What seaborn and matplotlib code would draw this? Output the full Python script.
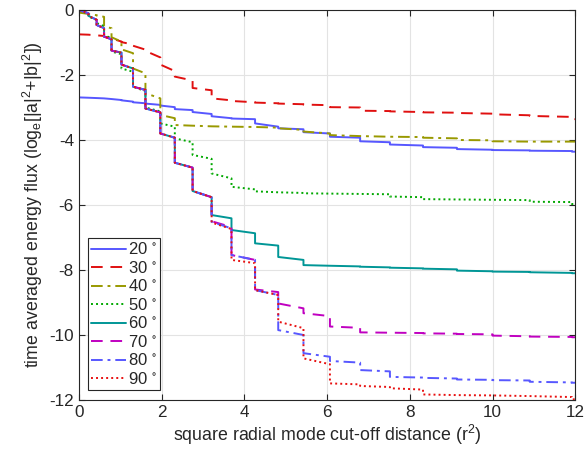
import numpy as np
import pandas as pd
import seaborn as sns
import matplotlib.pyplot as plt

sns.set_theme(style='whitegrid')
plt.rcParams['font.family'] = ['Liberation Sans', 'DejaVu Sans']
plt.rcParams['mathtext.default'] = 'regular'
plt.rcParams['axes.unicode_minus'] = False

# mode cut-off positions (r^2) where the curves step down
breaks = [0, 0.23, 0.43, 0.61, 0.79, 1.03, 1.31, 1.61, 1.97, 2.32, 2.75, 3.21, 3.69,
          4.26, 4.82, 5.43, 6.07, 6.8, 7.52, 8.32, 9.14, 10.0, 10.9, 11.92, 12]

# first 11 segments shared by the 60..90 deg curves
common_start = [0, -0.18, -0.46, -0.82, -1.25, -1.68, -2.36, -3.03, -3.80, -4.70, -5.57]
common_end = [-0.10, -0.30, -0.56, -0.90, -1.31, -1.80, -2.46, -3.15, -3.93, -4.85, -5.76]

# level at start / end of each segment, per angle
y20_start = [-2.69, -2.70, -2.71, -2.72, -2.74, -2.78, -2.84, -2.88, -2.94, -3.05, -3.14, -3.27,
             -3.34, -3.49, -3.64, -3.76, -3.90, -4.04, -4.14, -4.22, -4.28, -4.31, -4.33, -4.36]
y20_end = [-2.70, -2.71, -2.72, -2.74, -2.77, -2.82, -2.87, -2.92, -2.99, -3.08, -3.20, -3.33,
           -3.36, -3.59, -3.67, -3.80, -3.93, -4.07, -4.17, -4.24, -4.30, -4.32, -4.34, -4.36]

y30_start = [-0.75, -0.76, -0.78, -0.82, -0.88, -0.99, -1.10, -1.26, -1.68, -2.05, -2.40, -2.72,
             -2.80, -2.85, -2.88, -2.91, -2.99, -3.10, -3.12, -3.15, -3.17, -3.21, -3.26, -3.35]
y30_end = [-0.76, -0.78, -0.80, -0.86, -0.97, -1.06, -1.22, -1.46, -1.88, -2.17, -2.47, -2.78,
           -2.84, -2.87, -2.90, -2.93, -3.00, -3.11, -3.14, -3.16, -3.19, -3.24, -3.29, -3.36]

y40_start = [-0.08, -0.13, -0.17, -0.51, -0.84, -1.21, -1.80, -2.56, -3.23, -3.54, -3.56, -3.58,
             -3.59, -3.60, -3.64, -3.74, -3.85, -3.88, -3.90, -3.93, -4.00, -4.04, -4.05, -4.05]
y40_end = [-0.12, -0.16, -0.21, -0.56, -0.97, -1.33, -1.95, -2.72, -3.33, -3.56, -3.58, -3.59,
           -3.60, -3.62, -3.69, -3.80, -3.88, -3.90, -3.91, -3.95, -4.01, -4.05, -4.05, -4.05]

y50_start = [0, -0.20, -0.40, -0.77, -1.28, -1.80, -2.36, -3.00, -3.49, -3.95, -4.46, -5.03,
             -5.44, -5.58, -5.61, -5.64, -5.65, -5.66, -5.74, -5.82, -5.83, -5.84, -5.90, -5.97]
y50_end = [-0.12, -0.31, -0.50, -0.87, -1.36, -1.90, -2.50, -3.12, -3.59, -4.07, -4.58, -5.18,
           -5.52, -5.61, -5.63, -5.65, -5.66, -5.67, -5.76, -5.83, -5.84, -5.85, -5.91, -5.97]

y60_start = common_start + [-6.31, -6.77, -7.18, -7.60, -7.85, -7.87, -7.90, -7.93, -7.96, -8.02, -8.05, -8.07, -8.10]
y60_end = common_end + [-6.41, -6.87, -7.25, -7.69, -7.87, -7.89, -7.92, -7.95, -7.98, -8.04, -8.06, -8.09, -8.10]

y70_start = common_start + [-6.50, -7.54, -8.60, -9.03, -9.33, -9.74, -9.92, -9.93, -9.95, -9.97, -10.02, -10.05, -10.07]
y70_end = common_end + [-6.68, -7.69, -8.68, -9.18, -9.42, -9.78, -9.93, -9.94, -9.96, -9.98, -10.04, -10.06, -10.07]

y80_start = common_start + [-6.52, -7.54, -8.62, -9.85, -10.56, -10.80, -11.08, -11.29, -11.32, -11.37, -11.39, -11.44, -11.47]
y80_end = common_end + [-6.72, -7.69, -8.77, -10.00, -10.67, -10.85, -11.12, -11.31, -11.34, -11.38, -11.40, -11.46, -11.47]

y90_start = common_start + [-6.54, -7.69, -8.62, -9.59, -10.72, -11.49, -11.57, -11.64, -11.83, -11.85, -11.86, -11.88, -11.98]
y90_end = common_end + [-6.74, -7.79, -8.77, -9.79, -10.90, -11.52, -11.60, -11.68, -11.85, -11.86, -11.88, -11.91, -11.98]

labels = ['20$\\,^\\circ$', '30$\\,^\\circ$', '40$\\,^\\circ$', '50$\\,^\\circ$',
          '60$\\,^\\circ$', '70$\\,^\\circ$', '80$\\,^\\circ$', '90$\\,^\\circ$']
series = [(y20_start, y20_end), (y30_start, y30_end), (y40_start, y40_end), (y50_start, y50_end),
          (y60_start, y60_end), (y70_start, y70_end), (y80_start, y80_end), (y90_start, y90_end)]
colors = ['#5757ff', '#e01010', '#999900', '#00a800', '#009696', '#c000c0', '#5757ff', '#e81010']
styles = ['-', (0, (6, 4)), (0, (6, 2.5, 1.5, 2.5)), (0, (1, 1.6)),
          '-', (0, (6, 4)), (0, (6, 2.5, 1.5, 2.5)), (0, (1, 1.6))]

fig, ax = plt.subplots(figsize=(5.84, 4.54), dpi=100)
fig.subplots_adjust(left=0.135, right=0.985, top=0.978, bottom=0.119)

for lab, (ys, ye), col, ls in zip(labels, series, colors, styles):
    xs, yv = [], []
    for i in range(len(ys)):
        xs += [breaks[i], breaks[i + 1]]
        yv += [ys[i], ye[i]]
    df = pd.DataFrame({'x': xs, 'y': yv})
    sns.lineplot(data=df, x='x', y='y', ax=ax, color=col, linestyle=ls, linewidth=1.4,
                 estimator=None, sort=False, label=lab)

ax.set_xlim(0, 12)
ax.set_ylim(-12, 0)
ax.set_xticks(np.arange(0, 13, 2))
ax.set_yticks(np.arange(-12, 1, 2))
ax.set_xlabel('square radial mode cut-off distance (r$^2$)', fontsize=12.8, color='#262626', labelpad=2)
ax.set_ylabel('time averaged energy flux (log$_e$[|a|$^2$+|b|$^2$])', fontsize=12.8, color='#262626', labelpad=3)
ax.grid(True, color='#e3e3e3', linewidth=0.8)
ax.set_facecolor('white')
for sp in ax.spines.values():
    sp.set_color('#262626')
    sp.set_linewidth(0.8)
ax.tick_params(direction='in', length=4, width=0.8, color='#262626', labelcolor='#262626',
               labelsize=12.3, top=True, right=True, bottom=True, left=True)

leg = ax.legend(loc='lower left', bbox_to_anchor=(0.018, 0.025), borderaxespad=0, fontsize=12,
                handlelength=2.1, handletextpad=0.1, labelspacing=0.15, borderpad=0.2,
                fancybox=False, framealpha=1, edgecolor='#262626')
leg.get_frame().set_linewidth(0.8)

fig.savefig('out.png', dpi=100)
